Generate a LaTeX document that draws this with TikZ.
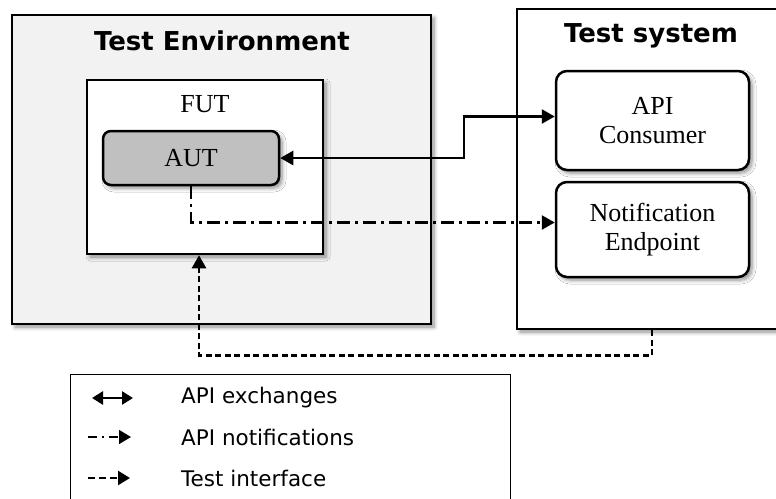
\documentclass[tikz,border=0pt]{standalone}
\usepackage{fontspec}
\setmainfont{Liberation Serif}
\newfontfamily\verd{DejaVu Sans}
\usepackage{tikz}
\usetikzlibrary{arrows.meta, positioning, calc, shadows.blur}
\definecolor{envfill}{HTML}{F2F2F2}
\definecolor{autfill}{HTML}{C0C0C0}
\definecolor{inkOne}{HTML}{000000}
\tikzset{
  boxshade/.style={blur shadow={shadow xshift=3pt, shadow yshift=-3pt, shadow blur radius=4pt, shadow blur steps=6, shadow opacity=45}},
  frame/.style={draw=inkOne, line width=2.5pt, inner sep=0pt},
  block/.style={frame, rounded corners=11pt, fill=white, align=center, font=\fontsize{26}{29}\selectfont, boxshade},
  title/.style={font=\verd\bfseries\fontsize{26}{29}\selectfont, text=inkOne},
  legtext/.style={font=\verd\fontsize{21.5}{24}\selectfont, anchor=west, inner sep=0pt, text=inkOne},
  apiarr/.style={{Triangle[length=13pt, width=14pt]}-{Triangle[length=13pt, width=14pt]}, line width=2.5pt},
  ntfarr/.style={-{Triangle[length=13pt, width=14pt]}, line width=2.5pt, dash pattern=on 13pt off 5pt on 3pt off 5pt},
  tiarr/.style={-{Triangle[length=13pt, width=14pt]}, line width=2.5pt, dash pattern=on 6pt off 3.5pt},
}
\begin{document}
\begin{tikzpicture}[x=1pt, y=-1pt]
  \useasboundingbox (0,0) rectangle (776,498);
  % test environment
  \node[frame, fill=envfill, boxshade, minimum width=419pt, minimum height=309pt] (env) at (221.5,169.5) {};
  \node[title] (envtitle) at (222,41) {Test Environment};
  \node[frame, fill=white, boxshade, minimum width=236pt, minimum height=174pt] (fut) at (205,167) {};
  \node[font=\fontsize{26}{29}\selectfont] (futtitle) at (205,104) {FUT};
  \node[block, fill=autfill, rounded corners=8pt, minimum width=176pt, minimum height=54pt] (aut) at (191,158) {AUT};
  % test system
  \node[frame, fill=white, boxshade, minimum width=270pt, minimum height=320pt] (sys) at (652,169) {};
  \node[title] (systitle) at (651,36) {Test system};
  \node[block, minimum width=193pt, minimum height=99pt] (cons) at (652.5,120.5) {API\\Consumer};
  \node[block, minimum width=193pt, minimum height=95pt] (notif) at (652.5,229.5) {Notification\\Endpoint};
  % connectors
  \coordinate (bend) at (464,0);
  \draw[apiarr] (aut.east) -- (aut.east -| bend) |- ([yshift=4pt]cons.west);
  \draw[ntfarr] (aut.south) |- ([yshift=7pt]notif.west);
  \draw[tiarr] (sys.south) -- ++(0,25) -| ([xshift=-6pt]fut.south);
  % legend
  \node[draw=inkOne, line width=1pt, fill=white, inner sep=0pt, minimum width=440pt, minimum height=136pt] (leg) at (290,442) {};
  \coordinate (la1) at (92,398);  \coordinate (lb1) at (133,398);
  \coordinate (la2) at (88,437);  \coordinate (lb2) at (131,437);
  \coordinate (la3) at (88,478);  \coordinate (lb3) at (130,478);
  \draw[{Triangle[length=11pt, width=13pt]}-{Triangle[length=11pt, width=13pt]}, line width=2.5pt] (la1) -- (lb1);
  \draw[-{Triangle[length=12pt, width=14pt]}, line width=1.5pt, dash pattern=on 9pt off 5pt on 2pt off 5pt] (la2) -- (lb2);
  \draw[-{Triangle[length=12pt, width=14pt]}, line width=2.5pt, dash pattern=on 7pt off 4pt] (la3) -- (lb3);
  \node[legtext] (lt1) at (181,398) {API exchanges};
  \node[legtext] (lt2) at (181,437) {API notifications};
  \node[legtext] (lt3) at (181,478) {Test interface};
\end{tikzpicture}
\end{document}
